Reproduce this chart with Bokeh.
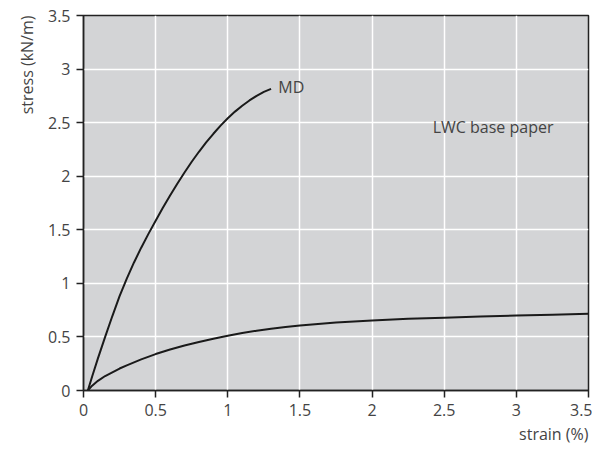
from bokeh.plotting import figure
from bokeh.models import Title, FixedTicker, Range1d
from bokeh.embed import file_html
from bokeh.resources import INLINE
from bokeh.core.properties import value

md_strain = [0.03, 0.06, 0.1, 0.15, 0.2, 0.25, 0.3, 0.35, 0.4, 0.45, 0.5, 0.55, 0.6, 0.65, 0.7,
             0.75, 0.8, 0.85, 0.9, 0.95, 1.0, 1.05, 1.1, 1.15, 1.2, 1.25, 1.3]
md_stress = [0.0, 0.13, 0.30, 0.50, 0.695, 0.88, 1.045, 1.195, 1.333, 1.462, 1.585, 1.705, 1.82,
             1.93, 2.035, 2.135, 2.228, 2.315, 2.396, 2.472, 2.541, 2.603, 2.658, 2.707, 2.75,
             2.787, 2.815]
cd_strain = [0.03, 0.06, 0.1, 0.15, 0.2, 0.25, 0.3, 0.4, 0.5, 0.6, 0.7, 0.8, 0.9, 1.0, 1.1, 1.2,
             1.3, 1.4, 1.5, 1.75, 2.0, 2.25, 2.5, 2.75, 3.0, 3.25, 3.5]
cd_stress = [0.0, 0.045, 0.09, 0.135, 0.17, 0.205, 0.235, 0.29, 0.34, 0.383, 0.42, 0.453, 0.483,
             0.511, 0.536, 0.558, 0.577, 0.593, 0.607, 0.634, 0.654, 0.669, 0.68, 0.69, 0.699,
             0.708, 0.717]
x_ticks = [0, 0.5, 1, 1.5, 2, 2.5, 3, 3.5]
y_ticks = [0, 0.5, 1, 1.5, 2, 2.5, 3, 3.5]
labels = ["MD", "LWC base paper"]
label_x = [1.35, 2.42]
label_y = [2.83, 2.46]

FONT = "Open Sans"
TXT = "#444444"
FS = "16px"

p = figure(width=592, height=450, output_backend="svg", toolbar_location=None,
           x_range=Range1d(0, 3.5), y_range=Range1d(0, 3.5),
           min_border_left=83, min_border_right=4, min_border_top=15, min_border_bottom=60)
p.background_fill_color = "#d3d4d6"
p.border_fill_color = "white"
p.outline_line_color = "#222222"
p.outline_line_width = 1.5

for ax, ticks in ((p.xaxis, x_ticks), (p.yaxis, y_ticks)):
    ax.ticker = FixedTicker(ticks=ticks)
    ax.axis_line_color = "#222222"
    ax.axis_line_width = 1.5
    ax.major_tick_line_color = "#222222"
    ax.major_tick_line_width = 1.5
    ax.major_tick_out = 7
    ax.major_tick_in = 0
    ax.minor_tick_line_color = None
    ax.major_label_text_font = FONT
    ax.major_label_text_font_size = FS
    ax.major_label_text_color = TXT
p.xaxis.major_label_standoff = 6
p.yaxis.major_label_standoff = 6

p.grid.grid_line_color = "white"
p.grid.grid_line_width = 1.5
p.xgrid.ticker = FixedTicker(ticks=x_ticks)
p.ygrid.ticker = FixedTicker(ticks=y_ticks)

p.line(md_strain, md_stress, line_color="#1a1a1a", line_width=2)
p.line(cd_strain, cd_stress, line_color="#1a1a1a", line_width=2)

p.text(x=label_x, y=label_y, text=labels, text_font=value(FONT), text_font_size=FS,
       text_color=TXT, text_baseline="middle", text_align="left")

p.add_layout(Title(text="stress (kN/m)", align="right", text_font=FONT, text_font_size=FS,
                   text_color=TXT, text_font_style="normal", offset=0, standoff=14), "left")
p.add_layout(Title(text="strain (%)", align="right", text_font=FONT, text_font_size=FS,
                   text_color=TXT, text_font_style="normal", standoff=5), "below")

open("out.html", "w").write(file_html(p, INLINE))
